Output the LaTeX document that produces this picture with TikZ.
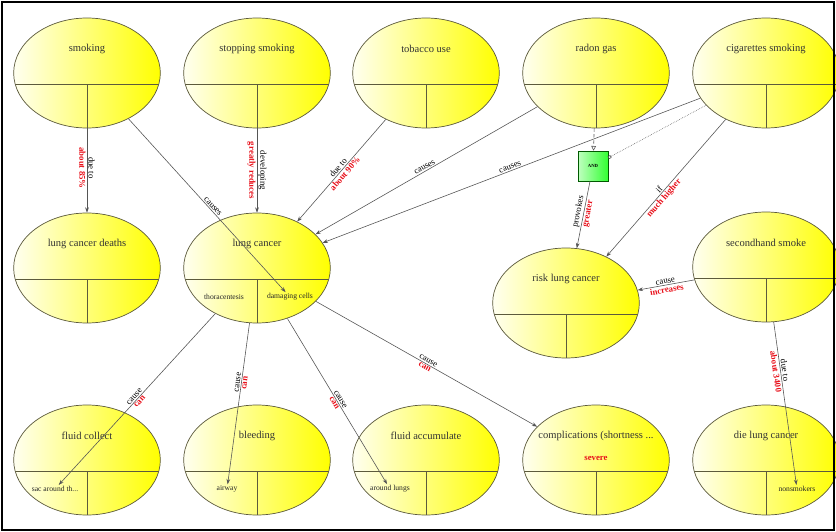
\documentclass[tikz,border=0pt]{standalone}
\usepackage{fontspec}
\setmainfont{Liberation Serif}
\usetikzlibrary{arrows.meta,shapes.geometric}
\definecolor{conceptedge}{HTML}{5C5A3C}
\definecolor{linkgray}{HTML}{555555}
\definecolor{labelred}{HTML}{E8101A}

\begin{document}
\begin{tikzpicture}[x=0.03cm,y=-0.03cm,
    concept/.style={ellipse,draw=conceptedge,line width=.6pt,inner sep=0pt,
      minimum width=4.4cm,minimum height=3.3cm,left color=yellow!6,right color=yellow,
      path picture={
        \draw[conceptedge,line width=.8pt] ([yshift=-.33cm]path picture bounding box.west)
          -- ([yshift=-.33cm]path picture bounding box.east);
        \draw[conceptedge,line width=.6pt] ([yshift=-.33cm]path picture bounding box.center)
          -- (path picture bounding box.south);}},
    conceptname/.style={font=\fontsize{9}{10}\selectfont,text=black!80},
    partname/.style={font=\fontsize{6.5}{7}\selectfont,text=black!85,inner sep=1pt},
    link/.style={draw=linkgray,line width=.5pt,-{Stealth[length=4.5pt,width=3.2pt]}},
    relword/.style={sloped,above,font=\fontsize{7.5}{8}\selectfont,inner sep=1pt},
    relhedge/.style={sloped,below,font=\fontsize{7.5}{8}\selectfont\bfseries,text=labelred,inner sep=1pt}]
  \useasboundingbox (0,0) rectangle (836,532);

  % top row
  \node[concept] (smoking) at (87,73) {};
  \node[conceptname] (smokingT) at (87,49) {smoking};
  \node[concept] (stopping) at (257,73) {};
  \node[conceptname] (stoppingT) at (257,49) {stopping smoking};
  \node[concept] (tobacco) at (426,73) {};
  \node[conceptname] (tobaccoT) at (426,49) {tobacco use};
  \node[concept] (radon) at (596,73) {};
  \node[conceptname] (radonT) at (596,49) {radon gas};
  \node[concept] (cigarettes) at (766,73) {};
  \node[conceptname] (cigarettesT) at (766,49) {cigarettes smoking};

  % middle row
  \node[concept] (deaths) at (87,268) {};
  \node[conceptname] (deathsT) at (87,244) {lung cancer deaths};
  \node[concept] (lungcancer) at (257,268) {};
  \node[conceptname] (lungcancerT) at (257,244) {lung cancer};
  \node[partname] (thoracentesis) at (224,297) {thoracentesis};
  \node[partname] (damaging) at (290,297) {damaging cells};
  \node[concept] (risk) at (566,303) {};
  \node[conceptname] (riskT) at (566,279) {risk lung cancer};
  \node[concept] (secondhand) at (766,267) {};
  \node[conceptname] (secondhandT) at (766,243) {secondhand smoke};

  % bottom row
  \node[concept] (fluidcollect) at (87,460) {};
  \node[conceptname] (fluidcollectT) at (87,436) {fluid collect};
  \node[partname] (sac) at (55,489) {sac around th...};
  \node[concept] (bleeding) at (257,460) {};
  \node[conceptname] (bleedingT) at (257,436) {bleeding};
  \node[partname] (airway) at (227,489) {airway};
  \node[concept] (fluidaccum) at (426,460) {};
  \node[conceptname] (fluidaccumT) at (426,436) {fluid accumulate};
  \node[partname] (aroundlungs) at (390,489) {around lungs};
  \node[concept] (complications) at (596,460) {};
  \node[conceptname] (complicationsT) at (596,436) {complications (shortness ...};
  \node[partname,font=\fontsize{7.5}{8}\selectfont\bfseries,text=labelred] (severe) at (596,458) {severe};
  \node[concept] (dielung) at (766,460) {};
  \node[conceptname] (dielungT) at (766,436) {die lung cancer};
  \node[partname] (nonsmokers) at (797,489) {nonsmokers};

  % AND gate
  \node[draw=green!35!black,line width=.5pt,left color=green!25,right color=green!80,
    minimum size=.9cm,inner sep=0pt,font=\fontsize{4}{4}\selectfont\bfseries] (andgate) at (593,166) {AND};

  % links
  \draw[link] (smoking) -- node[relword,pos=.47] {due to} node[relhedge,pos=.47] {about 85\%} (deaths);
  \draw[link] (stopping) -- node[relword] {developing} node[relhedge] {greatly reduces} (lungcancer);
  \draw[link] (tobacco) -- node[relword] {due to} node[relhedge] {about 90\%} (lungcancer);
  \draw[link] (radon) -- node[relword] {causes} (lungcancer);
  \draw[link] (cigarettes) -- node[relword] {causes} (lungcancer);
  \draw[link] (smoking) -- node[relword,pos=.52] {causes} (damaging);
  \draw[linkgray,line width=.5pt,densely dashed,-{Triangle[open,length=4pt,width=4pt]}] (radon) -- (andgate);
  \draw[linkgray,line width=.5pt,densely dotted,-{Square[open,length=2.5pt,width=2.5pt]}] (cigarettes) -- (andgate);
  \draw[link] (andgate) -- node[relword,pos=.47] {provokes} node[relhedge,pos=.47] {greater} (risk);
  \draw[link] (cigarettes) -- node[relword,pos=.53] {if} node[relhedge,pos=.55] {much higher} (risk);
  \draw[link] (secondhand) -- node[relword] {cause} node[relhedge] {increases} (risk);
  \draw[link] (secondhand) -- node[relword,pos=.3] {due to} node[relhedge,pos=.3] {about 3400} (nonsmokers);
  \draw[link] (lungcancer) -- node[relword] {cause} node[relhedge] {can} (sac);
  \draw[link] (lungcancer) -- node[relword,pos=.37] {cause} node[relhedge,pos=.37] {can} (airway);
  \draw[link] (lungcancer) -- node[relword] {cause} node[relhedge] {can} (aroundlungs);
  \draw[link] (lungcancer) -- node[relword] {cause} node[relhedge] {can} (complications);

  % frame
  \draw[line width=2.2pt] (2,2) rectangle (834,530);
\end{tikzpicture}
\end{document}
